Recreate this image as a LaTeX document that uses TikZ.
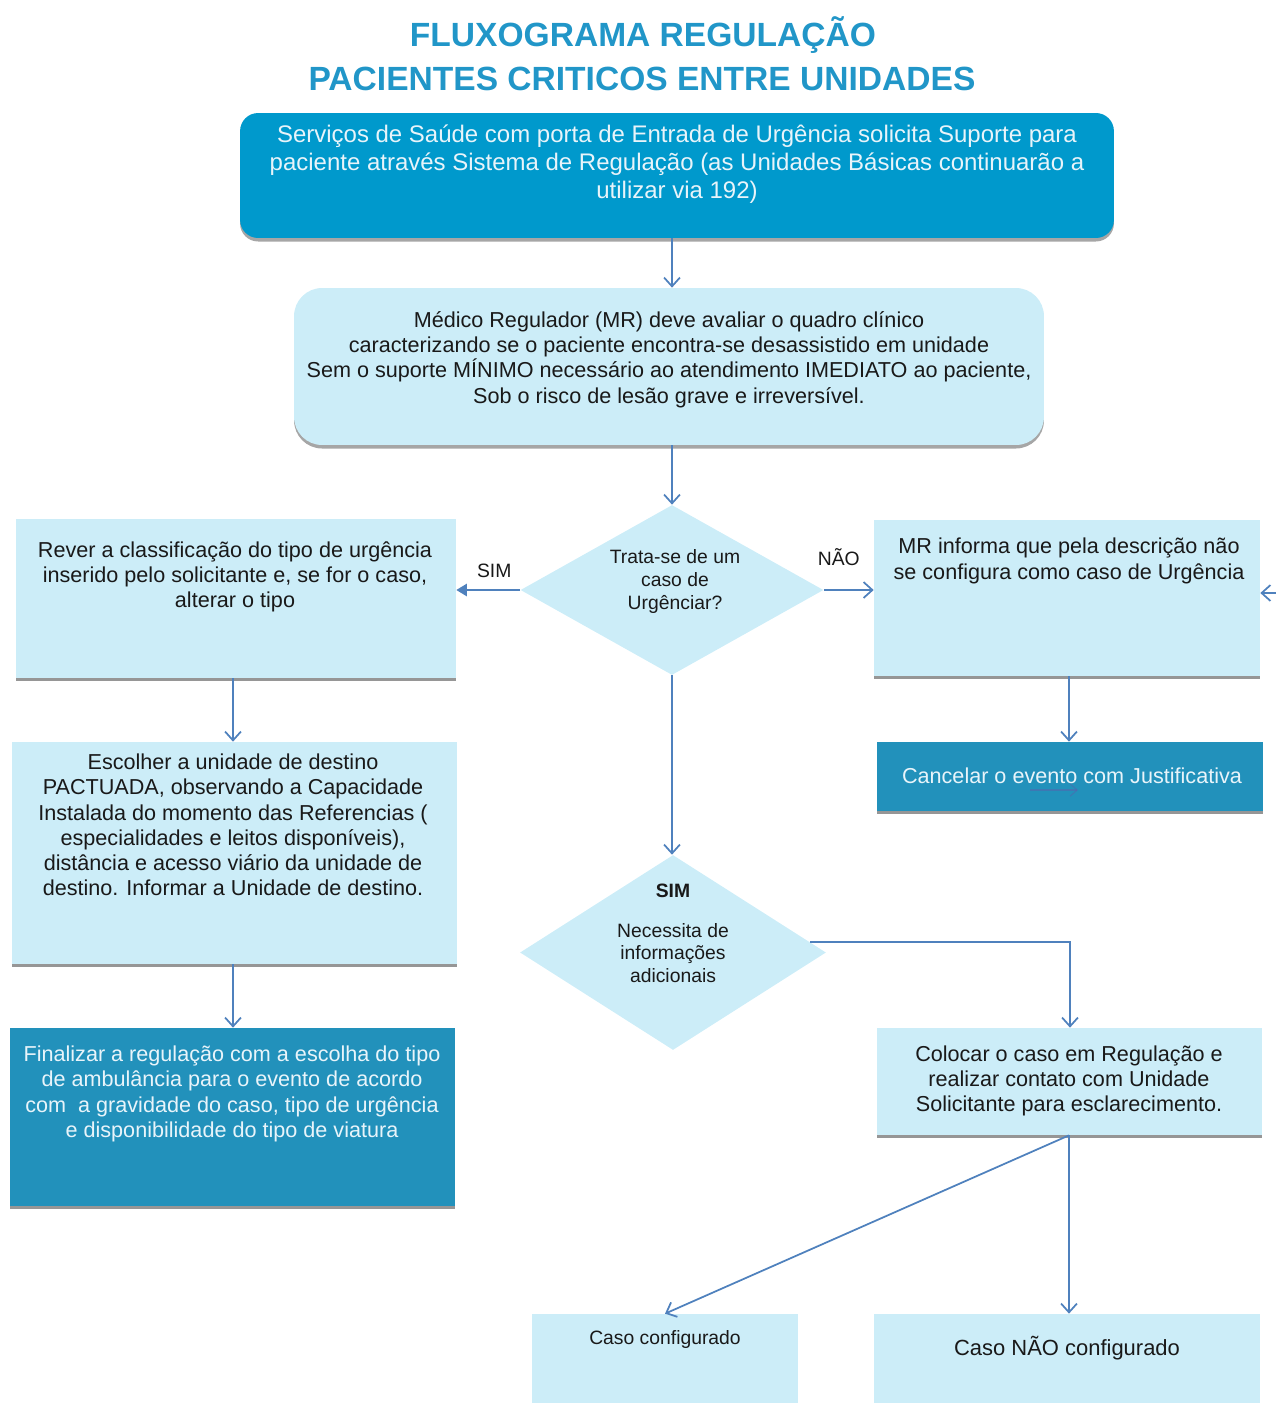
\documentclass[tikz,border=0pt]{standalone}
\usepackage{fontspec}
\setmainfont{Liberation Sans}
\usetikzlibrary{shapes.geometric,arrows.meta,shadows,calc}

\definecolor{titleblue}{RGB}{33,150,200}
\definecolor{topfill}{RGB}{0,153,204}
\definecolor{lightfill}{RGB}{204,237,248}
\definecolor{darkfill}{RGB}{34,145,187}
\definecolor{arrowc}{RGB}{79,129,189}
\definecolor{textdark}{RGB}{25,25,25}
\definecolor{textlight}{RGB}{232,244,250}

\tikzset{
  flatbox/.style={rectangle, draw=none, inner sep=0pt,
    drop shadow={shadow xshift=0pt, shadow yshift=-1.8pt, opacity=0.55, fill=black!75}},
  lightbox/.style={flatbox, fill=lightfill},
  darkbox/.style={flatbox, fill=darkfill},
  roundbox/.style={rectangle, draw=none, inner sep=0pt, rounded corners=#1,
    drop shadow={shadow xshift=0pt, shadow yshift=-2pt, opacity=0.35, fill=black}},
  decision/.style={diamond, draw=none, fill=lightfill, inner sep=0pt, aspect=1.8},
  txt/.style={align=center, anchor=center, inner sep=0pt, text=textdark,
    font=\fontsize{12.3}{14.4}\selectfont},
  txtlight/.style={txt, text=textlight},
  smalltxt/.style={txt, font=\fontsize{11}{13}\selectfont},
  titletxt/.style={inner sep=0pt, text=titleblue, font=\fontsize{19.1}{23}\selectfont\bfseries},
  arr/.style={draw=arrowc, line width=1pt, -{Straight Barb[length=5pt,width=9pt]}},
  solidarr/.style={draw=arrowc, line width=1pt, -{Triangle[length=6pt,width=7pt]}},
}

\begin{document}
\begin{tikzpicture}[x=0.02cm, y=-0.02cm]
\useasboundingbox (0,0) rectangle (1275,1403);

% title
\node[titletxt] (t1) at (643,35) {FLUXOGRAMA REGULAÇÃO};
\node[titletxt] (t2) at (642,79) {PACIENTES CRITICOS ENTRE UNIDADES};

% boxes
\node[roundbox=0.36cm, fill=topfill, minimum width=17.48cm, minimum height=2.5cm] (entry) at (677,175.5) {};
\node[txtlight, font=\fontsize{13.65}{16}\selectfont] (entrytxt) at (677,164.5)
  {Serviços de Saúde com porta de Entrada de Urgência solicita Suporte para\\
   paciente através Sistema de Regulação (as Unidades Básicas continuarão a\\
   utilizar via 192)};

\node[roundbox=0.56cm, fill=lightfill, minimum width=15cm, minimum height=3.14cm] (medico) at (669,366.5) {};
\node[txt] (medicotxt) at (669,359.5)
  {Médico Regulador (MR) deve avaliar o quadro clínico\\
   caracterizando se o paciente encontra-se desassistido em unidade\\
   Sem o suporte MÍNIMO necessário ao atendimento IMEDIATO ao paciente,\\
   Sob o risco de lesão grave e irreversível.};

\node[decision, minimum width=6.06cm, minimum height=3.4cm] (urg) at (672,590) {};
\node[smalltxt] (urgtxt) at (675,581.5) {Trata-se de um\\caso de\\Urgênciar?};

\node[lightbox, minimum width=8.8cm, minimum height=3.18cm] (rever) at (236,598.5) {};
\node[txt] (revertxt) at (235,577)
  {Rever a classificação do tipo de urgência\\
   inserido pelo solicitante e, se for o caso,\\
   alterar o tipo};

\node[lightbox, minimum width=7.72cm, minimum height=3.12cm] (mr) at (1067,598) {};
\node[txt] (mrtxt) at (1069,561)
  {MR informa que pela descrição não\\
   se configura como caso de Urgência};

\node[darkbox, minimum width=7.72cm, minimum height=1.38cm] (cancel) at (1070,776.5) {};
\node[txtlight] (canceltxt) at (1072,776)
  {Cancelar o evento com Justificativa};

\node[lightbox, minimum width=8.9cm, minimum height=4.44cm] (escolher) at (234.5,853) {};
\node[txt] (escolhertxt) at (233,825)
  {Escolher a unidade de destino\\
   PACTUADA, observando a Capacidade\\
   Instalada do momento das Referencias (\\
   especialidades e leitos disponíveis),\\
   distância e acesso viário da unidade de\\
   destino. Informar a Unidade de destino.};

\node[decision, minimum width=6.12cm, minimum height=3.9cm] (info) at (673,952.5) {};
\node[smalltxt] (infotxt) at (673,933.5)
  {\textbf{SIM}\\[9.5pt]Necessita de\\informações\\adicionais};

\node[darkbox, minimum width=8.9cm, minimum height=3.56cm] (final) at (232.5,1117) {};
\node[txtlight] (finaltxt) at (232,1094)
  {Finalizar a regulação com a escolha do tipo\\
   de ambulância para o evento de acordo\\
   com\ \ a gravidade do caso, tipo de urgência\\
   e disponibilidade do tipo de viatura};

\node[lightbox, minimum width=7.7cm, minimum height=2.14cm] (colocar) at (1069.5,1081.5) {};
\node[txt] (colocartxt) at (1069,1081)
  {Colocar o caso em Regulação e\\
   realizar contato com Unidade\\
   Solicitante para esclarecimento.};

\node[lightbox, minimum width=5.32cm, minimum height=1.92cm] (casosim) at (665,1362) {};
\node[smalltxt] (casosimtxt) at (665,1339) {Caso configurado};

\node[lightbox, minimum width=7.72cm, minimum height=1.92cm] (casonao) at (1067,1362) {};
\node[txt, font=\fontsize{12.5}{15}\selectfont] (casonaotxt) at (1067,1348) {Caso NÃO configurado};

% connectors
\draw[arr] (entry.south -| urg) -- (medico.north -| urg);
\draw[arr] (medico.south -| urg) -- (urg.north);
\draw[solidarr] (urg.west) -- (rever.east |- urg.west)
  node[smalltxt, midway, above=6.7pt, xshift=3.4pt] (simlbl) {SIM};
\draw[arr] (urg.east) -- (mr.west |- urg.east)
  node[smalltxt, midway, above=13.2pt, xshift=-5.7pt] (naolbl) {NÃO};
\draw[arr] (urg.south) -- (info.north -| urg);
\draw[arr] (rever.south -| 233,0) -- (escolher.north -| 233,0);
\draw[arr] (mr.south -| 1069,0) -- (cancel.north -| 1069,0);
\draw[arr] (escolher.south -| 233,0) -- (final.north -| 233,0);
\coordinate (infoout) at ($(info.north)!0.892!(info.east)$);
\draw[arr] (infoout) -| (colocar.north -| 1070,0);
\coordinate (colout) at (colocar.south -| 1069,0);
\draw[arr] (colout) -- (casosim.north);
\draw[arr] (colout) -- (casonao.north -| 1069,0);

% incoming connector entering from the right edge
\coordinate (offright) at (1300,593);
\draw[arr] (offright) -- (mr.east |- offright);

% faint stray arrow inside the cancel box
\coordinate (faintA) at (1030,790);
\coordinate (faintB) at (1078,790);
\draw[draw=arrowc!70!violet, opacity=0.45, line width=0.6pt,
  -{Straight Barb[length=4pt,width=7pt]}] (faintA) -- (faintB);

\end{tikzpicture}
\end{document}
